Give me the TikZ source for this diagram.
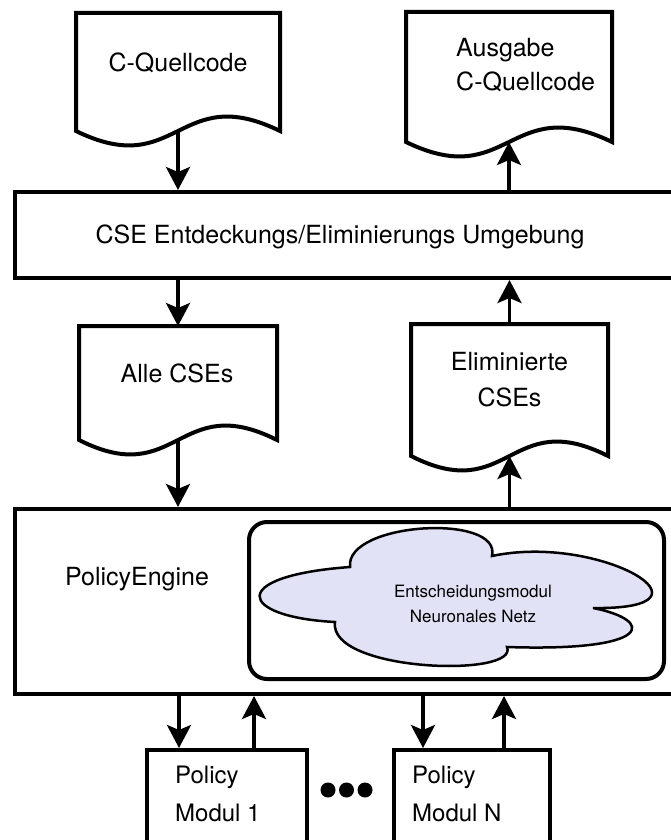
\documentclass[tikz,border=0pt]{standalone}
\usepackage{fontspec}
\setmainfont{TeX Gyre Heros}
\usetikzlibrary{arrows.meta}
\definecolor{cloudfill}{RGB}{226,226,246}
\begin{document}
\begin{tikzpicture}[x=1pt,y=-1pt,
  box/.style={draw, line width=4pt, rectangle, inner sep=0pt, anchor=north west},
  docshape/.style={draw, line width=4pt, fill=white, line join=miter},
  arr/.style={line width=3.5pt, -{Stealth[length=23pt,width=24pt,inset=5pt]}},
  big/.style={font=\fontsize{25}{30}\selectfont, inner sep=0pt, anchor=base},
  mid/.style={font=\fontsize{24}{29}\selectfont, inner sep=0pt, anchor=base west},
  small/.style={font=\fontsize{17}{20}\selectfont, inner sep=0pt, anchor=base},
  dot/.style={circle, fill, inner sep=0pt, minimum size=15pt}]
\useasboundingbox (0,0) rectangle (671,840);
\clip (0,0) rectangle (671,840);

% documents
\draw[docshape] (76,13) -- (280,13) -- (280,131) .. controls (178,81) and (178,181) .. (76,131) -- cycle;
\draw[docshape] (406,12) -- (612,12) -- (612,142) .. controls (509,92) and (509,192) .. (406,142) -- cycle;
\draw[docshape] (79,326) -- (277,326) -- (277,440) .. controls (178,390) and (178,490) .. (79,440) -- cycle;
\draw[docshape] (411,324) -- (608,324) -- (608,456) .. controls (509.5,406) and (509.5,506) .. (411,456) -- cycle;

\coordinate (d1b) at (178,131);
\coordinate (d2b) at (509,142);
\coordinate (d3t) at (178,326);
\coordinate (d3b) at (178,440);
\coordinate (d4t) at (509.5,324);
\coordinate (d4b) at (509.5,456);

% document texts
\node[big] (t1) at (178,72) {C-Quellcode};
\node[big, anchor=base west] (t2a) at (456,57) {Ausgabe};
\node[big, anchor=base west] (t2b) at (456,91) {C-Quellcode};
\node[big] (t3) at (177,382) {Alle CSEs};
\node[big] (t4a) at (509.5,370) {Eliminierte};
\node[big] (t4b) at (509.5,406) {CSEs};

% main boxes
\node[box, minimum width=700pt, minimum height=86pt] (cse) at (13,190) {};
\node[big] (cset) at (340,243) {CSE Entdeckungs/Eliminierungs Umgebung};

\node[box, minimum width=700pt, minimum height=185pt] (pe) at (13,507) {};
\node[big] (pet) at (137,585) {PolicyEngine};

\node[draw, line width=4pt, rounded corners=18pt, inner sep=0pt, anchor=north west,
      minimum width=415pt, minimum height=157pt] (inner) at (247,520) {};

% cloud
\draw[line width=2.5pt, fill=cloudfill]
  (350,567) .. controls (345,522) and (502,513) .. (492,556)
  .. controls (600,533) and (730,610) .. (593,608)
  .. controls (655,620) and (655,652) .. (507,647)
  .. controls (520,678) and (328,672) .. (335,622)
  .. controls (238,617) and (226,576) .. (350,567) -- cycle;
\node[small] (ct1) at (473,597) {Entscheidungsmodul};
\node[small] (ct2) at (473,622) {Neuronales Netz};

% policy modules
\node[box, minimum width=160pt, minimum height=150pt] (pm1) at (145,748) {};
\node[box, minimum width=156pt, minimum height=150pt] (pmn) at (392,748) {};
\node[mid] (pm1a) at (175,783) {Policy};
\node[mid] (pm1b) at (175,821) {Modul 1};
\node[mid] (pmna) at (412,783) {Policy};
\node[mid] (pmnb) at (412,821) {Modul N};

\node[dot] (dA) at (328,790) {};
\node[dot] (dB) at (346.5,790) {};
\node[dot] (dC) at (365,790) {};

% connectors
\draw[arr] (d1b) -- (d1b |- cse.north);
\draw[arr] (cse.north -| d2b) -- (d2b);
\draw[arr] (cse.south -| d3t) -- (d3t);
\draw[arr] (d4t) -- (d4t |- cse.south);
\draw[arr] (d3b) -- (d3b |- pe.north);
\draw[arr] (pe.north -| d4b) -- (d4b);

\coordinate (x1) at (179,0);
\coordinate (x2) at (254,0);
\coordinate (x3) at (423,0);
\coordinate (x4) at (504,0);
\draw[arr] (pe.south -| x1) -- (pm1.north -| x1);
\draw[arr] (pm1.north -| x2) -- (pe.south -| x2);
\draw[arr] (pe.south -| x3) -- (pmn.north -| x3);
\draw[arr] (pmn.north -| x4) -- (pe.south -| x4);
\end{tikzpicture}
\end{document}
